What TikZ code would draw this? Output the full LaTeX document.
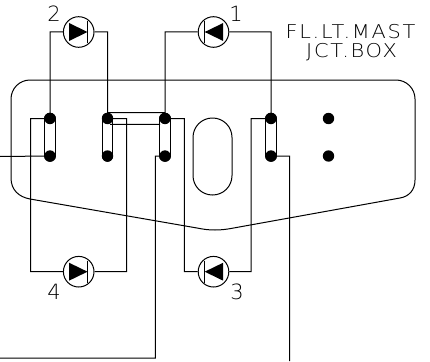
\documentclass[tikz,border=0pt]{standalone}
\usepackage{fontspec}
\usepackage{tikz}
\usetikzlibrary{positioning, calc}
\newfontfamily\cadfont[LetterSpace=9, FakeStretch=1.1]{DejaVu Sans ExtraLight}
\newfontfamily\numfont{DejaVu Sans ExtraLight}

\tikzset{
	lug/.style={circle, fill=black, inner sep=0pt, minimum size=11.4pt},
	lamp/.style={circle, draw, fill=white, inner sep=0pt, minimum size=30.6pt},
	slot/.style={draw, double=white, double distance=9.6pt, line cap=round},
	tag/.style={font=\cadfont\fontsize{19}{19}\selectfont, inner sep=0pt},
	num/.style={font=\numfont\fontsize{21}{21}\selectfont, inner sep=0pt}
}

\begin{document}
\begin{tikzpicture}
	[x=1pt, y=-1pt, line width=1pt, on grid, node distance=37.5pt and 57.5pt]
   \useasboundingbox (0,0) rectangle (430,361);
   % terminals
   \coordinate (a_1) at (50,118.5);
   \coordinate[below=of a_1] (b_1);
   \coordinate[right=of a_1] (a_2);
   \coordinate[below=of a_2] (b_2);
   \coordinate[right=of a_2] (a_3);
   \coordinate[below=of a_3] (b_3);
   \coordinate[right=106pt of a_3] (a_4);
   \coordinate[below=of a_4] (b_4);
   \coordinate[right=of a_4] (a_5);
   \coordinate[below=of a_5] (b_5);
   % lamps
   \node[lamp] (l_2) at (78.7,32) {};
   \node[lamp] (l_1) at (213.5,32) {};
   \node[lamp] (l_4) at (78.7,271.7) {};
   \node[lamp] (l_3) at (213.5,271.7) {};
   \node[num] (n_2) at (54,14) {2};
   \node[num] (n_1) at (236,14) {1};
   \node[num] (n_4) at (54,292) {4};
   \node[num] (n_3) at (237,292) {3};
   \node[tag] (n_5) at (350.5,32) {FL.LT.MAST};
   \node[tag] (n_6) at (351.5,52) {JCT.BOX};
   % free ends
   \coordinate (w_l) at (0,156.5);
   \coordinate (w_m) at (0,358);
   \coordinate (w_r) at (289.7,361);
   \coordinate (k_l) at (110,124.3);
   \coordinate (k_r) at (160,124.3);
   % box and window
   \draw (30,80) -- (396,80) arc[start angle=-90, end angle=0, radius=19] -- (415,180)
      .. controls (415,190) and (409,196.5) .. (400,198) -- (232,228.3)
      .. controls (226,229.4) and (221,230) .. (215,230)
      .. controls (208,230) and (203,229.2) .. (197,228) -- (30,199)
      .. controls (19,197) and (11,190) .. (11,178) -- (11,99)
      arc[start angle=180, end angle=270, radius=19] -- cycle;
   \draw[rounded corners=19.4pt] (193,118) rectangle (232,195);
   % slots
   \draw[slot] (a_1) -- (b_1);
   \draw[slot] (a_2) -- (b_2);
   \draw[slot] (a_3) -- (b_3);
   \draw[slot] (a_4) -- (b_4);
   % wires
   \path[draw]
    (a_1) |- (l_2.west)
    (l_2.east) -| (a_2)
    (a_3) |- (l_1.west)
    (l_1.east) -| (a_4)
    (a_1) -- ++(-19.3,0) |- (l_4.west)
    (l_4.east) -| ($(a_2)+(19.2,0)$) -- (a_2)
    (a_3) -- ++(19.3,0) |- (l_3.west)
    (l_3.east) -| ($(a_4)+(-20,0)$) -- (a_4)
    (a_2) -- ++(0,-6) -| (a_3)
    (k_l) -- (k_r)
    (w_l) -- (b_1)
    (b_3) -- ++(-9.7,0) |- (w_m)
    (b_4) -| (w_r);
   % lugs on top
   \foreach \q in {a_1,b_1,a_2,b_2,a_3,b_3,a_4,b_4,a_5,b_5}
      \node[lug] (d\q) at (\q) {};
   % diode marks
   \foreach \q/\s in {l_2/1, l_4/1, l_1/-1, l_3/-1} {
      \fill[shift={(\q)}, xscale=\s] (-9.7,-9) -- (8.8,0) -- (-9.7,9) -- cycle;
      \draw[shift={(\q)}, xscale=\s, line width=.7pt] (9,-11) -- (9,11);
   }
\end{tikzpicture}
\end{document}
